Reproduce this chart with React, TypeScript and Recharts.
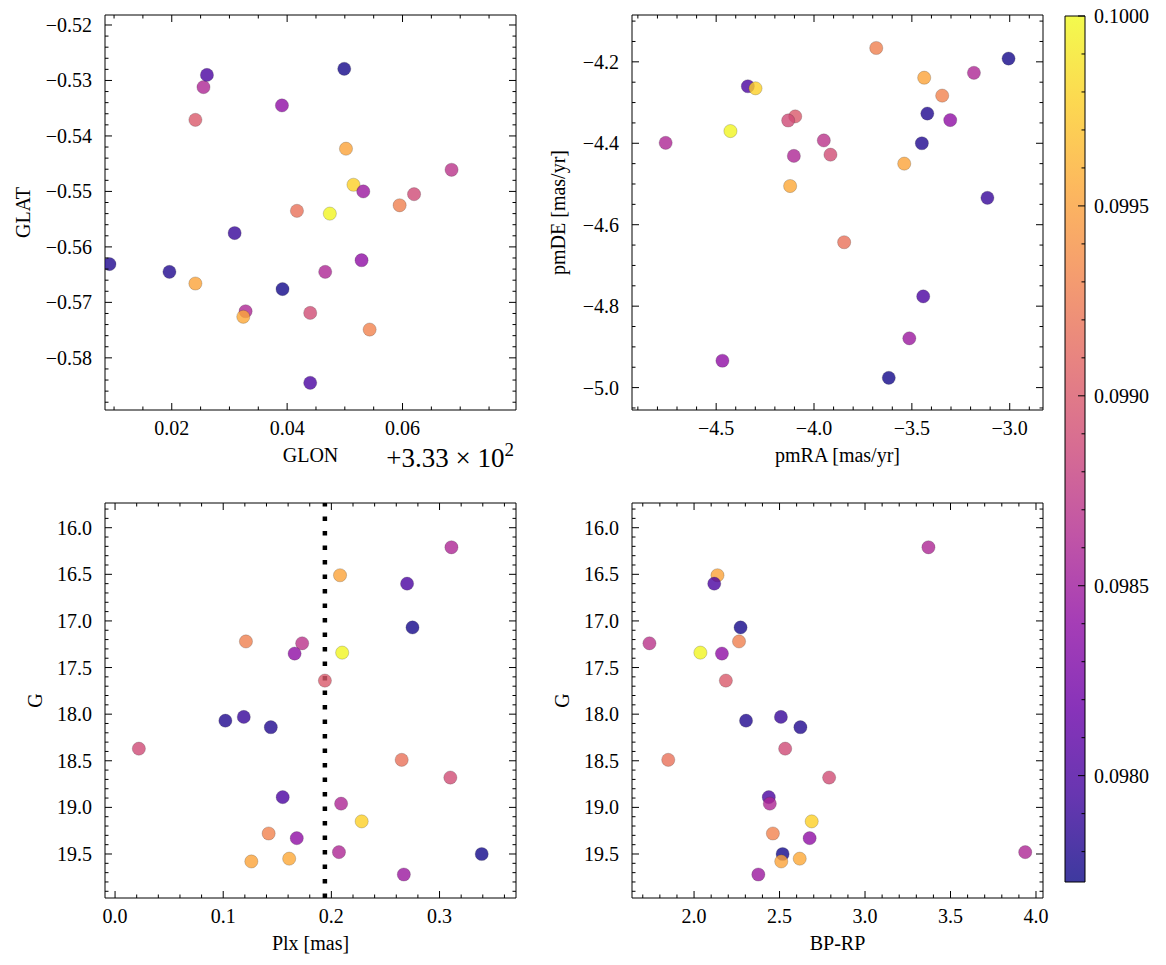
import React from "react";
import { CartesianGrid, Label, ReferenceArea, ReferenceLine, Scatter, ScatterChart, XAxis, YAxis } from "recharts";

const FONT = "'Liberation Serif', 'Times New Roman', serif";

// one entry per star, same order in every list
const prob = [
  0.0986, 0.09952, 0.098, 0.09775, 0.09928, 0.0987, 0.0984, 0.09998, 0.099, 0.0978, 0.0979, 0.0978, 0.09888,
  0.09918, 0.0989, 0.098, 0.0986, 0.09978, 0.0993, 0.0984, 0.0986, 0.09774, 0.09952, 0.09955, 0.09848,
];
const glon = [
  333.0255, 333.0502, 333.0261, 333.0499, 333.0595, 333.0685, 333.0529, 333.0474, 333.0241, 333.0092, 333.0309,
  333.0196, 333.062, 333.0417, 333.044, 333.044, 333.0466, 333.0515, 333.0543, 333.0391, 333.0328, 333.0392,
  333.0241, 333.0324, 333.0532,
];
const glat = [
  -0.5312, -0.5423, -0.529, -0.5279, -0.5525, -0.5461, -0.5624, -0.554, -0.5371, -0.5631, -0.5575, -0.5645, -0.5505,
  -0.5535, -0.5719, -0.5845, -0.5645, -0.5488, -0.5749, -0.5345, -0.5716, -0.5676, -0.5666, -0.5726, -0.55,
];
const pmra = [
  -3.183, -3.437, -4.338, -3.006, -3.682, -3.95, -3.304, -4.427, -4.096, -3.421, -3.114, -3.449, -4.132, -3.846,
  -3.916, -3.442, -4.758, -4.299, -3.345, -4.468, -4.103, -3.618, -3.539, -4.122, -3.513,
];
const pmde = [
  -4.227, -4.239, -4.26, -4.192, -4.166, -4.393, -4.343, -4.37, -4.334, -4.327, -4.534, -4.4, -4.344, -4.643,
  -4.428, -4.776, -4.399, -4.265, -4.283, -4.934, -4.431, -4.976, -4.45, -4.505, -4.879,
];
const plx = [
  0.311, 0.208, 0.27, 0.275, 0.121, 0.173, 0.166, 0.21, 0.194, 0.102, 0.119, 0.144, 0.022, 0.265, 0.31, 0.155,
  0.209, 0.228, 0.142, 0.168, 0.207, 0.339, 0.126, 0.161, 0.267,
];
const gmag = [
  16.21, 16.51, 16.6, 17.07, 17.22, 17.24, 17.35, 17.34, 17.64, 18.07, 18.03, 18.14, 18.37, 18.49, 18.68, 18.89,
  18.96, 19.15, 19.28, 19.33, 19.48, 19.5, 19.58, 19.55, 19.72,
];
const bprp = [
  3.371, 2.137, 2.118, 2.272, 2.263, 1.739, 2.163, 2.037, 2.186, 2.304, 2.508, 2.622, 2.533, 1.849, 2.79, 2.437,
  2.443, 2.688, 2.461, 2.676, 3.937, 2.518, 2.51, 2.618, 2.376,
];

const PLX_CUT = 0.194;
const PROB_MIN = 0.09772;
const PROB_MAX = 0.1;
const GLON_ZERO = 333;

// labelled ticks
const glonMajor = [333.02, 333.04, 333.06];
const glatMajor = [-0.52, -0.53, -0.54, -0.55, -0.56, -0.57, -0.58];
const pmraMajor = [-4.5, -4.0, -3.5, -3.0];
const pmdeMajor = [-4.2, -4.4, -4.6, -4.8, -5.0];
const plxMajor = [0.0, 0.1, 0.2, 0.3];
const gMajor = [16.0, 16.5, 17.0, 17.5, 18.0, 18.5, 19.0, 19.5];
const bprpMajor = [2.0, 2.5, 3.0, 3.5, 4.0];
const probMajor = [0.098, 0.0985, 0.099, 0.0995, 0.1];

const PLASMA = [
  "#0d0887", "#41049d", "#6a00a8", "#8f0da4", "#b12a90", "#cc4778",
  "#e16462", "#f2844b", "#fca636", "#fcce25", "#f0f921",
];

function plasma(t: number) {
  const c = Math.min(1, Math.max(0, t)) * (PLASMA.length - 1);
  const i = Math.min(PLASMA.length - 2, Math.floor(c));
  const f = c - i;
  const a = PLASMA[i], b = PLASMA[i + 1];
  const ch = (s: string, k: number) => parseInt(s.slice(1 + 2 * k, 3 + 2 * k), 16);
  const mix = [0, 1, 2].map((k) => Math.round(ch(a, k) + (ch(b, k) - ch(a, k)) * f));
  return `rgb(${mix.join(",")})`;
}

const stars = prob.map((p, i) => ({
  glon: glon[i],
  glat: glat[i],
  pmra: pmra[i],
  pmde: pmde[i],
  plx: plx[i],
  g: gmag[i],
  bprp: bprp[i],
  color: plasma((p - PROB_MIN) / (PROB_MAX - PROB_MIN)),
}));

function minor(from: number, to: number, step: number) {
  const out: number[] = [];
  const n = Math.round((to - from) / step);
  for (let i = 0; i <= n; i++) out.push(Number((from + i * step).toFixed(6)));
  return out;
}

const fixed = (d: number) => (v: number) => v.toFixed(d).replace("-", "\u2212");
const glonFmt = (v: number) => (v - GLON_ZERO).toFixed(2);

type Side = "bottom" | "top" | "left" | "right";

const textStyle = { fontFamily: FONT, fontSize: 20, fill: "#000" };

function tickMark(side: Side, major: number[], fmt?: (v: number) => string) {
  return (props: any) => {
    const { x, y, payload } = props;
    const v = payload.value;
    const isMajor = major.some((m) => Math.abs(m - v) < 1e-7);
    const len = isMajor ? 7 : 3.5;
    const dx = side === "left" ? len : side === "right" ? -len : 0;
    const dy = side === "bottom" ? -len : side === "top" ? len : 0;
    let label = null;
    if (fmt && isMajor) {
      if (side === "bottom")
        label = <text x={x} y={y + 18} dy="0.35em" textAnchor="middle" style={textStyle}>{fmt(v)}</text>;
      if (side === "left")
        label = <text x={x - 13} y={y} dy="0.35em" textAnchor="end" style={textStyle}>{fmt(v)}</text>;
      if (side === "right")
        label = <text x={x + 9} y={y} dy="0.35em" textAnchor="start" style={textStyle}>{fmt(v)}</text>;
    }
    return (
      <g>
        <line x1={x} y1={y} x2={x + dx} y2={y + dy} stroke="#000" strokeWidth={1} />
        {label}
      </g>
    );
  };
}

const dot = (p: any) => (
  <circle
    cx={p.cx}
    cy={p.cy}
    r={6.6}
    fill={p.payload.color}
    fillOpacity={0.8}
    stroke="#333"
    strokeOpacity={0.45}
    strokeWidth={0.5}
  />
);
const nothing = () => <g />;

const AXIS_W = 100;
const AXIS_H = 60;
const M = { top: 14, right: 11, bottom: 5, left: 5 };

interface PanelProps {
  box: [number, number, number, number];
  xKey: string;
  yKey: string;
  xDomain: [number, number];
  yDomain: [number, number];
  xTicks: number[];
  yTicks: number[];
  xMajor: number[];
  yMajor: number[];
  xFmt: (v: number) => string;
  yFmt: (v: number) => string;
  xTitle: string;
  yTitle: string;
  yTitleX: number;
  yReversed?: boolean;
  offsetText?: boolean;
  cut?: number;
}

function Panel(p: PanelProps) {
  const [l, t, r, b] = p.box;
  // plot box starts after margin + 1px mirror axis on top / right
  const chartLeft = l - AXIS_W - M.left;
  const chartTop = t - M.top - 1;
  const width = M.left + AXIS_W + (r - l) + 1 + M.right;
  const height = M.top + 1 + (b - t) + AXIS_H + M.bottom;
  const plotL = M.left + AXIS_W;
  const plotT = M.top + 1;
  const plotB = plotT + (b - t);
  const plotR = plotL + (r - l);
  const midY = plotT + (b - t) / 2;

  const xTitle = () => (
    <g>
      <text x={(plotL + plotR) / 2} y={plotB + 45} dy="0.35em" textAnchor="middle" style={textStyle}>
        {p.xTitle}
      </text>
      {p.offsetText && (
        <text x={plotR - 2} y={plotB + 57} textAnchor="end" style={{ ...textStyle, fontSize: 27 }}>
          +3.33 × 10
          <tspan dy={-11} fontSize={19}>2</tspan>
        </text>
      )}
    </g>
  );
  const yTitleX = p.yTitleX - chartLeft;
  const yTitle = () => (
    <text
      x={yTitleX}
      y={midY}
      dy="0.35em"
      textAnchor="middle"
      transform={`rotate(-90, ${yTitleX}, ${midY})`}
      style={textStyle}
    >
      {p.yTitle}
    </text>
  );

  return (
    <div style={{ position: "absolute", left: chartLeft, top: chartTop }}>
      <ScatterChart width={width} height={height} margin={M}>
        <XAxis
          type="number"
          dataKey={p.xKey}
          domain={p.xDomain}
          allowDataOverflow
          ticks={p.xTicks}
          interval={0}
          tick={tickMark("bottom", p.xMajor, p.xFmt)}
          tickLine={false}
          tickSize={0}
          tickMargin={0}
          height={AXIS_H}
          axisLine={{ stroke: "#000", strokeWidth: 1 }}
        >
          <Label content={xTitle} />
        </XAxis>
        <XAxis
          xAxisId="t"
          orientation="top"
          type="number"
          dataKey={p.xKey}
          domain={p.xDomain}
          allowDataOverflow
          ticks={p.xTicks}
          interval={0}
          tick={tickMark("top", p.xMajor)}
          tickLine={false}
          tickSize={0}
          tickMargin={0}
          height={1}
          axisLine={{ stroke: "#000", strokeWidth: 1 }}
        />
        <YAxis
          type="number"
          dataKey={p.yKey}
          domain={p.yDomain}
          allowDataOverflow
          reversed={p.yReversed}
          ticks={p.yTicks}
          interval={0}
          tick={tickMark("left", p.yMajor, p.yFmt)}
          tickLine={false}
          tickSize={0}
          tickMargin={0}
          width={AXIS_W}
          axisLine={{ stroke: "#000", strokeWidth: 1 }}
        >
          <Label content={yTitle} />
        </YAxis>
        <YAxis
          yAxisId="r"
          orientation="right"
          type="number"
          dataKey={p.yKey}
          domain={p.yDomain}
          allowDataOverflow
          reversed={p.yReversed}
          ticks={p.yTicks}
          interval={0}
          tick={tickMark("right", p.yMajor)}
          tickLine={false}
          tickSize={0}
          tickMargin={0}
          width={1}
          axisLine={{ stroke: "#000", strokeWidth: 1 }}
        />
        {p.cut !== undefined && (
          <ReferenceLine x={p.cut} stroke="#000" strokeWidth={4.5} strokeDasharray="4.5 10" />
        )}
        <Scatter data={stars} xAxisId="t" yAxisId="r" isAnimationActive={false} shape={nothing} />
        <Scatter data={stars} isAnimationActive={false} shape={dot} />
      </ScatterChart>
    </div>
  );
}

function ColorBar() {
  const l = 1065, t = 16, r = 1085, b = 882;
  const m = { top: 15, right: 0, bottom: 10, left: 5 };
  return (
    <div style={{ position: "absolute", left: l - m.left, top: t - m.top }}>
      <ScatterChart width={m.left + (r - l) + 90} height={m.top + (b - t) + m.bottom} margin={m}>
        <defs>
          <linearGradient id="plasmaBar" x1="0" y1="1" x2="0" y2="0">
            {PLASMA.map((c, i) => (
              <stop key={c} offset={i / (PLASMA.length - 1)} stopColor={c} stopOpacity={0.8} />
            ))}
          </linearGradient>
        </defs>
        <CartesianGrid horizontal={false} vertical={false} fill="url(#plasmaBar)" fillOpacity={1} />
        <XAxis type="number" dataKey="x" domain={[0, 1]} allowDataOverflow hide />
        <YAxis
          orientation="right"
          type="number"
          domain={[PROB_MIN, PROB_MAX]}
          allowDataOverflow
          ticks={minor(0.0978, 0.1, 0.0001)}
          interval={0}
          tick={tickMark("right", probMajor, fixed(4))}
          tickLine={false}
          tickSize={0}
          tickMargin={0}
          width={90}
          axisLine={false}
        />
        <ReferenceArea
          x1={0}
          x2={1}
          y1={PROB_MIN}
          y2={PROB_MAX}
          fill="none"
          stroke="#000"
          strokeWidth={1}
        />
      </ScatterChart>
    </div>
  );
}

export default function App() {
  return (
    <div style={{ position: "absolute", left: 0, top: 0, width: 1166, height: 965, background: "#fff", fontFamily: FONT }}>
      <Panel
        box={[105, 15, 516, 410]}
        xKey="glon"
        yKey="glat"
        xDomain={[333.00843, 333.07967]}
        yDomain={[-0.5894, -0.5182]}
        xTicks={minor(333.01, 333.075, 0.005)}
        yTicks={minor(-0.588, -0.52, 0.002)}
        xMajor={glonMajor}
        yMajor={glatMajor}
        xFmt={glonFmt}
        yFmt={fixed(2)}
        xTitle="GLON"
        yTitle="GLAT"
        yTitleX={23}
        offsetText
      />
      <Panel
        box={[632, 15, 1043, 410]}
        xKey="pmra"
        yKey="pmde"
        xDomain={[-4.93, -2.83]}
        yDomain={[-5.055, -4.085]}
        xTicks={minor(-4.9, -2.9, 0.1)}
        yTicks={minor(-5.05, -4.1, 0.05)}
        xMajor={pmraMajor}
        yMajor={pmdeMajor}
        xFmt={fixed(1)}
        yFmt={fixed(1)}
        xTitle="pmRA [mas/yr]"
        yTitle="pmDE [mas/yr]"
        yTitleX={558}
      />
      <Panel
        box={[105, 503, 516, 898]}
        xKey="plx"
        yKey="g"
        xDomain={[-0.0093, 0.3707]}
        yDomain={[15.735, 19.972]}
        xTicks={minor(0, 0.36, 0.02)}
        yTicks={minor(15.8, 19.9, 0.1)}
        xMajor={plxMajor}
        yMajor={gMajor}
        xFmt={fixed(1)}
        yFmt={fixed(1)}
        xTitle="Plx [mas]"
        yTitle="G"
        yTitleX={35}
        yReversed
        cut={PLX_CUT}
      />
      <Panel
        box={[632, 503, 1043, 898]}
        xKey="bprp"
        yKey="g"
        xDomain={[1.637, 4.041]}
        yDomain={[15.735, 19.972]}
        xTicks={minor(1.7, 4.0, 0.1)}
        yTicks={minor(15.8, 19.9, 0.1)}
        xMajor={bprpMajor}
        yMajor={gMajor}
        xFmt={fixed(1)}
        yFmt={fixed(1)}
        xTitle="BP-RP"
        yTitle="G"
        yTitleX={562}
        yReversed
      />
      <ColorBar />
    </div>
  );
}
